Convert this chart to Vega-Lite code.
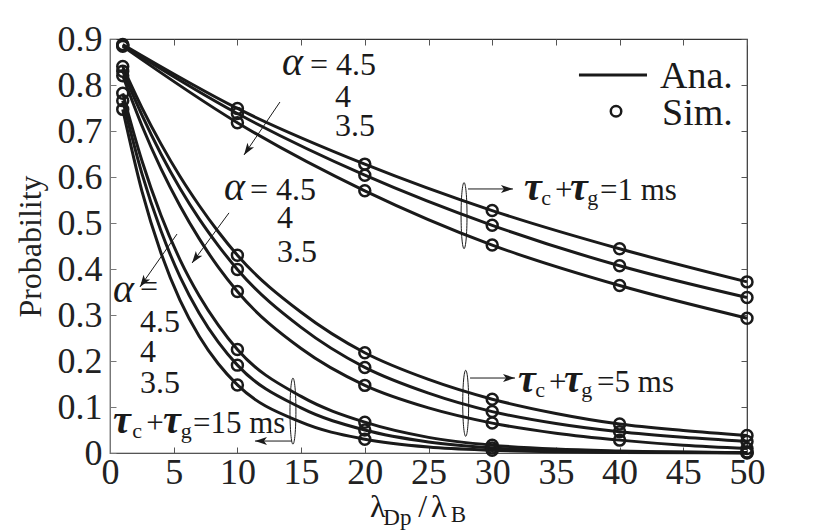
{
  "$schema": "https://vega.github.io/schema/vega-lite/v6.json",
  "width": 637,
  "height": 414,
  "autosize": "none",
  "padding": {"left": 110, "top": 39, "right": 83, "bottom": 79},
  "background": "white",
  "config": {
    "view": {"stroke": "#333", "strokeWidth": 1.2},
    "font": "Liberation Serif",
    "axis": {"grid": false}
  },
  "resolve": {"axis": {"x": "independent", "y": "independent"}},
  "datasets": {
    "ana": [
      {"s": "t1a45", "x": 1, "y": 0.888}, {"s": "t1a45", "x": 10, "y": 0.749}, {"s": "t1a45", "x": 20, "y": 0.628}, {"s": "t1a45", "x": 30, "y": 0.527}, {"s": "t1a45", "x": 40, "y": 0.444}, {"s": "t1a45", "x": 50, "y": 0.372},
      {"s": "t1a4", "x": 1, "y": 0.886}, {"s": "t1a4", "x": 10, "y": 0.738}, {"s": "t1a4", "x": 20, "y": 0.604}, {"s": "t1a4", "x": 30, "y": 0.495}, {"s": "t1a4", "x": 40, "y": 0.407}, {"s": "t1a4", "x": 50, "y": 0.338},
      {"s": "t1a35", "x": 1, "y": 0.884}, {"s": "t1a35", "x": 10, "y": 0.718}, {"s": "t1a35", "x": 20, "y": 0.570}, {"s": "t1a35", "x": 30, "y": 0.452}, {"s": "t1a35", "x": 40, "y": 0.364}, {"s": "t1a35", "x": 50, "y": 0.293},
      {"s": "t5a45", "x": 1, "y": 0.840}, {"s": "t5a45", "x": 2.5, "y": 0.751}, {"s": "t5a45", "x": 4, "y": 0.672}, {"s": "t5a45", "x": 5.5, "y": 0.601}, {"s": "t5a45", "x": 7, "y": 0.538}, {"s": "t5a45", "x": 8.5, "y": 0.481}, {"s": "t5a45", "x": 10, "y": 0.430}, {"s": "t5a45", "x": 15, "y": 0.306}, {"s": "t5a45", "x": 20, "y": 0.218}, {"s": "t5a45", "x": 25, "y": 0.160}, {"s": "t5a45", "x": 30, "y": 0.117}, {"s": "t5a45", "x": 35, "y": 0.086}, {"s": "t5a45", "x": 40, "y": 0.063}, {"s": "t5a45", "x": 45, "y": 0.049}, {"s": "t5a45", "x": 50, "y": 0.038},
      {"s": "t5a4", "x": 1, "y": 0.830}, {"s": "t5a4", "x": 2.5, "y": 0.735}, {"s": "t5a4", "x": 4, "y": 0.650}, {"s": "t5a4", "x": 5.5, "y": 0.575}, {"s": "t5a4", "x": 7, "y": 0.509}, {"s": "t5a4", "x": 8.5, "y": 0.451}, {"s": "t5a4", "x": 10, "y": 0.399}, {"s": "t5a4", "x": 15, "y": 0.273}, {"s": "t5a4", "x": 20, "y": 0.186}, {"s": "t5a4", "x": 25, "y": 0.130}, {"s": "t5a4", "x": 30, "y": 0.090}, {"s": "t5a4", "x": 35, "y": 0.064}, {"s": "t5a4", "x": 40, "y": 0.046}, {"s": "t5a4", "x": 45, "y": 0.034}, {"s": "t5a4", "x": 50, "y": 0.025},
      {"s": "t5a35", "x": 1, "y": 0.820}, {"s": "t5a35", "x": 2.5, "y": 0.712}, {"s": "t5a35", "x": 4, "y": 0.618}, {"s": "t5a35", "x": 5.5, "y": 0.537}, {"s": "t5a35", "x": 7, "y": 0.466}, {"s": "t5a35", "x": 8.5, "y": 0.404}, {"s": "t5a35", "x": 10, "y": 0.351}, {"s": "t5a35", "x": 15, "y": 0.227}, {"s": "t5a35", "x": 20, "y": 0.147}, {"s": "t5a35", "x": 25, "y": 0.098}, {"s": "t5a35", "x": 30, "y": 0.065}, {"s": "t5a35", "x": 35, "y": 0.043}, {"s": "t5a35", "x": 40, "y": 0.028}, {"s": "t5a35", "x": 45, "y": 0.017}, {"s": "t5a35", "x": 50, "y": 0.010},
      {"s": "t15a45", "x": 1, "y": 0.782}, {"s": "t15a45", "x": 2.5, "y": 0.636}, {"s": "t15a45", "x": 4, "y": 0.517}, {"s": "t15a45", "x": 5.5, "y": 0.420}, {"s": "t15a45", "x": 7, "y": 0.342}, {"s": "t15a45", "x": 8.5, "y": 0.278}, {"s": "t15a45", "x": 10, "y": 0.225}, {"s": "t15a45", "x": 15, "y": 0.123}, {"s": "t15a45", "x": 20, "y": 0.067}, {"s": "t15a45", "x": 25, "y": 0.034}, {"s": "t15a45", "x": 30, "y": 0.017}, {"s": "t15a45", "x": 35, "y": 0.0085}, {"s": "t15a45", "x": 40, "y": 0.0045}, {"s": "t15a45", "x": 50, "y": 0.0012},
      {"s": "t15a4", "x": 1, "y": 0.766}, {"s": "t15a4", "x": 2.5, "y": 0.608}, {"s": "t15a4", "x": 4, "y": 0.483}, {"s": "t15a4", "x": 5.5, "y": 0.383}, {"s": "t15a4", "x": 7, "y": 0.304}, {"s": "t15a4", "x": 8.5, "y": 0.241}, {"s": "t15a4", "x": 10, "y": 0.191}, {"s": "t15a4", "x": 15, "y": 0.098}, {"s": "t15a4", "x": 20, "y": 0.050}, {"s": "t15a4", "x": 25, "y": 0.024}, {"s": "t15a4", "x": 30, "y": 0.011}, {"s": "t15a4", "x": 35, "y": 0.005}, {"s": "t15a4", "x": 40, "y": 0.0025}, {"s": "t15a4", "x": 50, "y": 0.0006},
      {"s": "t15a35", "x": 1, "y": 0.747}, {"s": "t15a35", "x": 2.5, "y": 0.570}, {"s": "t15a35", "x": 4, "y": 0.435}, {"s": "t15a35", "x": 5.5, "y": 0.332}, {"s": "t15a35", "x": 7, "y": 0.254}, {"s": "t15a35", "x": 8.5, "y": 0.194}, {"s": "t15a35", "x": 10, "y": 0.148}, {"s": "t15a35", "x": 15, "y": 0.067}, {"s": "t15a35", "x": 20, "y": 0.030}, {"s": "t15a35", "x": 25, "y": 0.013}, {"s": "t15a35", "x": 30, "y": 0.006}, {"s": "t15a35", "x": 35, "y": 0.0027}, {"s": "t15a35", "x": 40, "y": 0.0012}, {"s": "t15a35", "x": 50, "y": 0.0002}
    ],
    "sim": [
      {"x": 1, "y": 0.888}, {"x": 1, "y": 0.886}, {"x": 1, "y": 0.884},
      {"x": 10, "y": 0.749}, {"x": 10, "y": 0.738}, {"x": 10, "y": 0.718},
      {"x": 20, "y": 0.628}, {"x": 20, "y": 0.604}, {"x": 20, "y": 0.570},
      {"x": 30, "y": 0.527}, {"x": 30, "y": 0.495}, {"x": 30, "y": 0.452},
      {"x": 40, "y": 0.444}, {"x": 40, "y": 0.407}, {"x": 40, "y": 0.364},
      {"x": 50, "y": 0.372}, {"x": 50, "y": 0.338}, {"x": 50, "y": 0.293},
      {"x": 1, "y": 0.840}, {"x": 1, "y": 0.830}, {"x": 1, "y": 0.820},
      {"x": 10, "y": 0.430}, {"x": 10, "y": 0.399}, {"x": 10, "y": 0.351},
      {"x": 20, "y": 0.218}, {"x": 20, "y": 0.186}, {"x": 20, "y": 0.147},
      {"x": 30, "y": 0.117}, {"x": 30, "y": 0.090}, {"x": 30, "y": 0.065},
      {"x": 40, "y": 0.063}, {"x": 40, "y": 0.046}, {"x": 40, "y": 0.028},
      {"x": 50, "y": 0.038}, {"x": 50, "y": 0.025}, {"x": 50, "y": 0.010},
      {"x": 1, "y": 0.782}, {"x": 1, "y": 0.766}, {"x": 1, "y": 0.747},
      {"x": 10, "y": 0.225}, {"x": 10, "y": 0.191}, {"x": 10, "y": 0.148},
      {"x": 20, "y": 0.067}, {"x": 20, "y": 0.050}, {"x": 20, "y": 0.030},
      {"x": 30, "y": 0.017}, {"x": 30, "y": 0.011}, {"x": 30, "y": 0.006},
      {"x": 50, "y": 0.002}, {"x": 50, "y": 0.001}, {"x": 50, "y": 0.0}
    ],
    "alphas": [
      {"x": 13.5, "y": 0.822, "t": "α"},
      {"x": 8.95, "y": 0.55, "t": "α"},
      {"x": 0.24, "y": 0.328, "t": "α"}
    ],
    "nums": [
      {"x": 15.7, "y": 0.822, "t": "= 4.5"},
      {"x": 17.66, "y": 0.752, "t": "4"},
      {"x": 17.66, "y": 0.689, "t": "3.5"},
      {"x": 10.99, "y": 0.55, "t": "= 4.5"},
      {"x": 13.11, "y": 0.489, "t": "4"},
      {"x": 13.11, "y": 0.415, "t": "3.5"},
      {"x": 2.35, "y": 0.339, "t": "="},
      {"x": 2.35, "y": 0.263, "t": "4.5"},
      {"x": 2.35, "y": 0.198, "t": "4"},
      {"x": 2.35, "y": 0.13, "t": "3.5"}
    ],
    "taus": [
      {"x": 32.5, "y": 0.55, "t": "τ"}, {"x": 36.11, "y": 0.55, "t": "τ"},
      {"x": 32.03, "y": 0.1326, "t": "τ"}, {"x": 35.64, "y": 0.1326, "t": "τ"},
      {"x": 0.235, "y": 0.0435, "t": "τ"}, {"x": 4.16, "y": 0.0435, "t": "τ"}
    ],
    "subs": [
      {"x": 33.85, "y": 0.539, "t": "c"}, {"x": 37.46, "y": 0.539, "t": "g"},
      {"x": 33.38, "y": 0.1217, "t": "c"}, {"x": 36.99, "y": 0.1217, "t": "g"},
      {"x": 1.75, "y": 0.0326, "t": "c"}, {"x": 5.55, "y": 0.0326, "t": "g"}
    ],
    "plains": [
      {"x": 34.93, "y": 0.55, "t": "+"}, {"x": 38.46, "y": 0.55, "t": "=1 ms"},
      {"x": 34.46, "y": 0.1326, "t": "+"}, {"x": 38.23, "y": 0.1326, "t": "=5 ms"},
      {"x": 2.85, "y": 0.0435, "t": "+"}, {"x": 6.51, "y": 0.0435, "t": "=15 ms"}
    ],
    "legtext": [
      {"x": 43.17, "y": 0.793, "t": "Ana."},
      {"x": 43.33, "y": 0.713, "t": "Sim."}
    ],
    "xbig": [
      {"x": 20.41, "y": -0.139, "t": "λ"},
      {"x": 24.2, "y": -0.139, "t": "/"},
      {"x": 25.2, "y": -0.139, "t": "λ"}
    ],
    "xsub": [
      {"x": 21.45, "y": -0.157, "t": "Dp"},
      {"x": 26.75, "y": -0.15, "t": "B"}
    ],
    "legline": [{"x": 36.81, "x2": 42.15, "y": 0.822}],
    "legpt": [{"x": 39.72, "y": 0.743}],
    "arrows": [
      {"x": 13.34, "y": 0.763, "x2": 10.52, "y2": 0.648, "a": 214},
      {"x": 9.34, "y": 0.522, "x2": 6.44, "y2": 0.413, "a": 216},
      {"x": 5.26, "y": 0.476, "x2": 2.35, "y2": 0.361, "a": 215},
      {"x": 14.29, "y": 0.026, "x2": 11.38, "y2": 0.026, "a": 270},
      {"x": 28.26, "y": 0.163, "x2": 31.79, "y2": 0.163, "a": 90},
      {"x": 28.1, "y": 0.574, "x2": 31.63, "y2": 0.574, "a": 90}
    ],
    "ellipses": [
      {"x": 27.79, "y": 0.516},
      {"x": 27.92, "y": 0.108},
      {"x": 14.36, "y": 0.091}
    ]
  },
  "layer": [
    {
      "data": {"name": "ana"},
      "mark": {"type": "line", "interpolate": "monotone", "color": "#1a1a1a", "strokeWidth": 3},
      "encoding": {
        "x": {"field": "x", "type": "quantitative", "scale": {"domain": [0, 50], "nice": false, "zero": false},
          "axis": {"orient": "bottom", "values": [0, 5, 10, 15, 20, 25, 30, 35, 40, 45, 50], "title": null,
            "labelFont": "Liberation Serif", "labelFontSize": 36, "labelColor": "#222", "labelFlush": false,
            "tickSize": -6, "labelPadding": 8, "domainColor": "#555", "tickColor": "#555", "tickWidth": 1}},
        "y": {"field": "y", "type": "quantitative", "scale": {"domain": [0, 0.9], "nice": false, "zero": false},
          "axis": {"orient": "left", "values": [0, 0.1, 0.2, 0.3, 0.4, 0.5, 0.6, 0.7, 0.8, 0.9], "format": ".1~f",
            "title": "Probability", "titleFont": "Liberation Serif", "titleFontSize": 32, "titleFontWeight": "normal",
            "titleColor": "#222", "titlePadding": 10,
            "labelFont": "Liberation Serif", "labelFontSize": 36, "labelColor": "#222",
            "tickSize": -6, "labelPadding": 14, "domainColor": "#777", "tickColor": "#777", "tickWidth": 1}},
        "detail": {"field": "s"}
      }
    },
    {
      "data": {"name": "sim"},
      "mark": {"type": "point", "shape": "circle", "filled": false, "size": 120, "strokeWidth": 2.5, "color": "#1a1a1a", "opacity": 1},
      "encoding": {
        "x": {"field": "x", "type": "quantitative",
          "axis": {"orient": "top", "values": [0, 5, 10, 15, 20, 25, 30, 35, 40, 45, 50], "labels": false, "title": null,
            "domain": false, "tickSize": -6, "tickColor": "#555"}},
        "y": {"field": "y", "type": "quantitative",
          "axis": {"orient": "right", "values": [0, 0.1, 0.2, 0.3, 0.4, 0.5, 0.6, 0.7, 0.8, 0.9], "labels": false, "title": null,
            "domain": false, "tickSize": -6, "tickColor": "#555"}}
      }
    },
    {
      "data": {"name": "legline"},
      "mark": {"type": "rule", "color": "#1a1a1a", "strokeWidth": 3},
      "encoding": {
        "x": {"field": "x", "type": "quantitative", "axis": null},
        "x2": {"field": "x2"},
        "y": {"field": "y", "type": "quantitative", "axis": null}
      }
    },
    {
      "data": {"name": "legpt"},
      "mark": {"type": "point", "shape": "circle", "filled": false, "size": 110, "strokeWidth": 2.5, "color": "#1a1a1a", "opacity": 1},
      "encoding": {
        "x": {"field": "x", "type": "quantitative", "axis": null},
        "y": {"field": "y", "type": "quantitative", "axis": null}
      }
    },
    {
      "data": {"name": "legtext"},
      "mark": {"type": "text", "align": "left", "baseline": "alphabetic", "font": "Liberation Serif", "fontSize": 38, "color": "#1a1a1a"},
      "encoding": {
        "x": {"field": "x", "type": "quantitative", "axis": null},
        "y": {"field": "y", "type": "quantitative", "axis": null},
        "text": {"field": "t"}
      }
    },
    {
      "data": {"name": "alphas"},
      "mark": {"type": "text", "align": "left", "baseline": "alphabetic", "font": "Liberation Serif", "fontSize": 40, "fontStyle": "italic", "color": "#1a1a1a"},
      "encoding": {
        "x": {"field": "x", "type": "quantitative", "axis": null},
        "y": {"field": "y", "type": "quantitative", "axis": null},
        "text": {"field": "t"}
      }
    },
    {
      "data": {"name": "nums"},
      "mark": {"type": "text", "align": "left", "baseline": "alphabetic", "font": "Liberation Serif", "fontSize": 32, "color": "#1a1a1a"},
      "encoding": {
        "x": {"field": "x", "type": "quantitative", "axis": null},
        "y": {"field": "y", "type": "quantitative", "axis": null},
        "text": {"field": "t"}
      }
    },
    {
      "data": {"name": "taus"},
      "mark": {"type": "text", "align": "left", "baseline": "alphabetic", "font": "Liberation Serif", "fontSize": 40, "fontStyle": "italic", "fontWeight": "bold", "color": "#1a1a1a"},
      "encoding": {
        "x": {"field": "x", "type": "quantitative", "axis": null},
        "y": {"field": "y", "type": "quantitative", "axis": null},
        "text": {"field": "t"}
      }
    },
    {
      "data": {"name": "subs"},
      "mark": {"type": "text", "align": "left", "baseline": "alphabetic", "font": "Liberation Serif", "fontSize": 22, "color": "#1a1a1a"},
      "encoding": {
        "x": {"field": "x", "type": "quantitative", "axis": null},
        "y": {"field": "y", "type": "quantitative", "axis": null},
        "text": {"field": "t"}
      }
    },
    {
      "data": {"name": "plains"},
      "mark": {"type": "text", "align": "left", "baseline": "alphabetic", "font": "Liberation Serif", "fontSize": 31, "color": "#1a1a1a"},
      "encoding": {
        "x": {"field": "x", "type": "quantitative", "axis": null},
        "y": {"field": "y", "type": "quantitative", "axis": null},
        "text": {"field": "t"}
      }
    },
    {
      "data": {"name": "xbig"},
      "mark": {"type": "text", "align": "left", "baseline": "alphabetic", "font": "Liberation Serif", "fontSize": 32, "color": "#1a1a1a"},
      "encoding": {
        "x": {"field": "x", "type": "quantitative", "axis": null},
        "y": {"field": "y", "type": "quantitative", "axis": null},
        "text": {"field": "t"}
      }
    },
    {
      "data": {"name": "xsub"},
      "mark": {"type": "text", "align": "left", "baseline": "alphabetic", "font": "Liberation Serif", "fontSize": 23, "color": "#1a1a1a"},
      "encoding": {
        "x": {"field": "x", "type": "quantitative", "axis": null},
        "y": {"field": "y", "type": "quantitative", "axis": null},
        "text": {"field": "t"}
      }
    },
    {
      "data": {"name": "arrows"},
      "mark": {"type": "rule", "color": "#1a1a1a", "strokeWidth": 1},
      "encoding": {
        "x": {"field": "x", "type": "quantitative", "axis": null},
        "y": {"field": "y", "type": "quantitative", "axis": null},
        "x2": {"field": "x2"},
        "y2": {"field": "y2"}
      }
    },
    {
      "data": {"name": "arrows"},
      "mark": {"type": "point", "shape": "M0,0L0.4,1.2L0,0.9L-0.4,1.2Z", "filled": true, "size": 400, "color": "#1a1a1a", "opacity": 1, "strokeWidth": 0},
      "encoding": {
        "x": {"field": "x2", "type": "quantitative", "axis": null},
        "y": {"field": "y2", "type": "quantitative", "axis": null},
        "angle": {"field": "a", "type": "quantitative", "scale": null}
      }
    },
    {
      "data": {"name": "ellipses"},
      "mark": {"type": "point", "shape": "M0,-1C0.05,-1,0.09,-0.552,0.09,0C0.09,0.552,0.05,1,0,1C-0.05,1,-0.09,0.552,-0.09,0C-0.09,-0.552,-0.05,-1,0,-1Z", "filled": false, "size": 4356, "strokeWidth": 1, "color": "#1a1a1a", "opacity": 1},
      "encoding": {
        "x": {"field": "x", "type": "quantitative", "axis": null},
        "y": {"field": "y", "type": "quantitative", "axis": null}
      }
    }
  ]
}
